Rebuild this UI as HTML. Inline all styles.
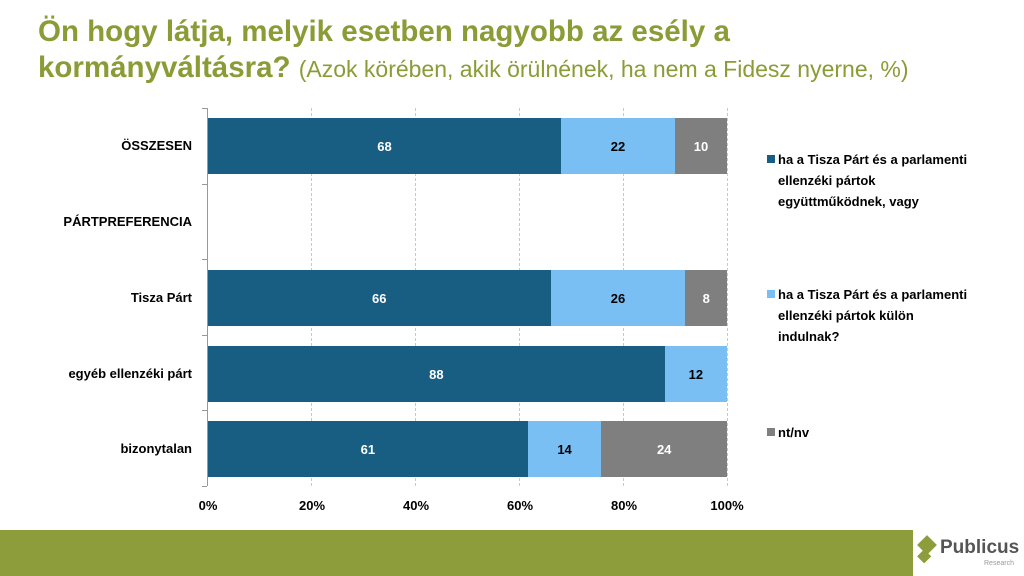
<!DOCTYPE html>
<html><head><meta charset="utf-8"><style>
body{margin:0;width:1024px;height:576px;position:relative;background:#fff;font-family:"Liberation Sans",sans-serif;overflow:hidden}
.t{position:absolute;left:38px;color:#8B9B35;font-weight:bold;font-size:29.5px;line-height:36px;top:14px}
.t span{font-weight:normal;font-size:23px}
.cat{position:absolute;right:832px;font-size:13px;font-weight:bold;color:#000;text-align:right;white-space:nowrap}
.bar{position:absolute;height:56px;display:flex}
.bar div{height:100%;display:flex;align-items:center;justify-content:center;font-size:13px;font-weight:bold;color:#fff}
.d{background:#175E82}.l{background:#7ABFF3;color:#000!important}.g{background:#7F7F7F}
.grid{position:absolute;top:108px;height:378px;border-left:1px dashed #c8c8c8}
.tick{position:absolute;top:498px;font-size:13px;font-weight:bold;width:50px;margin-left:-25px;text-align:center}
.leg{position:absolute;left:778px;font-size:13px;font-weight:bold;line-height:21px;width:250px}
.leg i{position:absolute;left:-11px;top:6px;width:8px;height:8px}
</style></head><body>
<div class="t">Ön hogy látja, melyik esetben nagyobb az esély a<br>kormányváltásra? <span>(Azok körében, akik örülnének, ha nem a Fidesz nyerne, %)</span></div>
<div class="grid" style="left:311px"></div><div class="grid" style="left:415px"></div><div class="grid" style="left:519px"></div><div class="grid" style="left:623px"></div><div class="grid" style="left:727px"></div>
<div style="position:absolute;left:207px;top:108px;height:378px;border-left:1px solid #999"></div>
<div style="position:absolute;left:202px;top:108px;width:5px;height:1px;background:#999"></div>
<div style="position:absolute;left:202px;top:184px;width:5px;height:1px;background:#999"></div>
<div style="position:absolute;left:202px;top:259px;width:5px;height:1px;background:#999"></div>
<div style="position:absolute;left:202px;top:335px;width:5px;height:1px;background:#999"></div>
<div style="position:absolute;left:202px;top:410px;width:5px;height:1px;background:#999"></div>
<div style="position:absolute;left:202px;top:486px;width:5px;height:1px;background:#999"></div>
<div class="cat" style="top:138px">ÖSSZESEN</div>
<div class="cat" style="top:214px">PÁRTPREFERENCIA</div>
<div class="cat" style="top:290px">Tisza Párt</div>
<div class="cat" style="top:366px">egyéb ellenzéki párt</div>
<div class="cat" style="top:441px">bizonytalan</div>
<div class="bar" style="left:208px;top:118px;width:519px"><div class="d" style="width:68%">68</div><div class="l" style="width:22%">22</div><div class="g" style="width:10%">10</div></div>
<div class="bar" style="left:208px;top:270px;width:519px"><div class="d" style="width:66%">66</div><div class="l" style="width:26%">26</div><div class="g" style="width:8%">8</div></div>
<div class="bar" style="left:208px;top:346px;width:519px"><div class="d" style="width:88%">88</div><div class="l" style="width:12%">12</div></div>
<div class="bar" style="left:208px;top:421px;width:519px"><div class="d" style="width:61.6%">61</div><div class="l" style="width:14.2%">14</div><div class="g" style="width:24.2%">24</div></div>
<div class="tick" style="left:208px">0%</div><div class="tick" style="left:312px">20%</div><div class="tick" style="left:416px">40%</div><div class="tick" style="left:520px">60%</div><div class="tick" style="left:624px">80%</div><div class="tick" style="left:727px">100%</div>
<div class="leg" style="top:149px"><i style="background:#175E82"></i>ha a Tisza Párt és a parlamenti<br>ellenzéki pártok<br>együttműködnek, vagy</div>
<div class="leg" style="top:284px"><i style="background:#7ABFF3"></i>ha a Tisza Párt és a parlamenti<br>ellenzéki pártok külön<br>indulnak?</div>
<div class="leg" style="top:422px"><i style="background:#7F7F7F"></i>nt/nv</div>
<div style="position:absolute;left:0;top:530px;width:913px;height:46px;background:#8E9D3B"></div>
<div style="position:absolute;left:920px;top:538px;width:14px;height:14px;background:#8E9D3B;transform:rotate(45deg);box-shadow:6px 10px 0 -2px #8E9D3B"></div>
<div style="position:absolute;left:940px;top:537px;font-size:19px;font-weight:bold;color:#555">Publicus</div>
<div style="position:absolute;left:984px;top:560px;font-size:7px;color:#999">Research</div>
</body></html>
